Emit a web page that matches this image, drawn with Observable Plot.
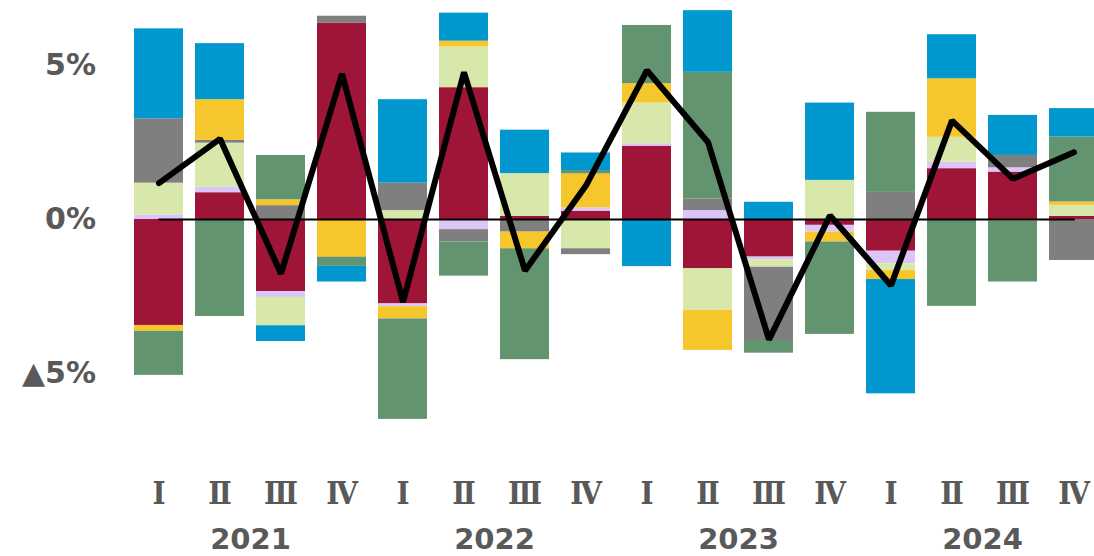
<!DOCTYPE html>
<html>
<head>
<meta charset="utf-8">
<script src="https://cdn.jsdelivr.net/npm/d3@7"></script>
<script src="https://cdn.jsdelivr.net/npm/@observablehq/plot@0.6"></script>
<style>
  html, body { margin: 0; padding: 0; background: #fff; overflow: hidden; }
  #chart svg { overflow: hidden; }
</style>
</head>
<body>
<div id="chart"></div>
<script>
// ---- data ----
const years = ["2021", "2022", "2023", "2024"];
const qLabels = ["Ⅰ", "Ⅱ", "Ⅲ", "Ⅳ"];
const quarters = years.flatMap(y => qLabels.map(q => `${y} ${q}`));

const seriesNames = ["系列A", "系列B", "系列C", "系列D", "系列E", "系列F", "系列G"];
const seriesColors = ["#9e1538", "#dcc5f7", "#d7e8aa", "#7f7f7f", "#f6c62d", "#62956f", "#0098cf"];

const seriesA = [-3.44, 0.87, -2.34, 6.37, -2.74, 4.28, 0.10, 0.27, 2.38, -1.60, -1.22, -0.19, -1.03, 1.65, 1.54, 0.10]; // crimson
const seriesB = [0.15, 0.18, -0.19, 0.00, -0.09, -0.33, 0.00, 0.11, 0.08, 0.29, -0.09, -0.22, -0.41, 0.21, 0.14, 0.00]; // lavender
const seriesC = [1.03, 1.43, -0.92, 0.00, 0.29, 1.32, 1.39, -0.95, 1.32, -1.35, -0.24, 1.27, -0.22, 0.81, 0.00, 0.36]; // light green
const seriesD = [2.09, 0.09, 0.45, 0.23, 0.89, -0.40, -0.41, -0.19, 0.00, 0.38, -2.38, 0.00, 0.88, 0.00, 0.40, -1.33]; // gray
const seriesE = [-0.19, 1.32, 0.19, -1.22, -0.40, 0.19, -0.54, 1.10, 0.63, -1.30, 0.00, -0.32, -0.29, 1.90, -0.05, 0.11]; // yellow
const seriesF = [-1.43, -3.15, 1.44, -0.30, -3.26, -1.11, -3.60, 0.11, 1.89, 4.11, -0.41, -3.00, 2.60, -2.82, -1.98, 2.11]; // green
const seriesG = [2.92, 1.82, -0.51, -0.51, 2.71, 0.91, 1.41, 0.57, -1.53, 2.00, 0.56, 2.51, -3.71, 1.43, 1.30, 0.92]; // blue

const total   = [1.18, 2.62, -1.76, 4.73, -2.68, 4.78, -1.66, 1.10, 4.84, 2.51, -3.90, 0.13, -2.14, 3.21, 1.32, 2.18];

const yTicks = [-5, 0, 5];

// ---- tables ----
const seriesValues = [seriesA, seriesB, seriesC, seriesD, seriesE, seriesF, seriesG];
const rows = [];
seriesNames.forEach((name, si) => {
  quarters.forEach((q, i) => rows.push({q, series: name, v: seriesValues[si][i]}));
});
const totalRows = quarters.map((q, i) => ({q, v: total[i]}));
const zeroRows = [{q: quarters[0], v: 0}, {q: quarters[quarters.length - 1], v: 0}];

const textColor = "#595959";

const chart = Plot.plot({
  width: 1094,
  height: 556,
  marginLeft: 127.5,
  marginRight: 0,
  marginTop: 3.4,
  marginBottom: 121.4,
  style: {background: "#fff", color: textColor},
  x: {type: "band", domain: quarters, range: [127.5, 1103.5], paddingInner: 0.2, paddingOuter: 0.1, label: null, axis: null},
  y: {domain: [-7, 7], label: null, axis: null},
  color: {domain: seriesNames, range: seriesColors},
  marks: [
    Plot.barY(rows, {x: "q", y: "v", fill: "series"}),
    Plot.lineY(zeroRows, {x: "q", y: "v", stroke: "black", strokeWidth: 2}),
    Plot.lineY(totalRows, {x: "q", y: "v", stroke: "black", strokeWidth: 6, strokeLinejoin: "miter", strokeLinecap: "round"}),
    Plot.axisY(yTicks, {
      tickSize: 0, tickPadding: 32,
      tickFormat: d => d < 0 ? `▲${Math.abs(d)}%` : `${d}%`,
      fontSize: 30, fontWeight: "bold", fontFamily: "DejaVu Sans", fill: textColor
    }),
    Plot.axisX({
      tickSize: 0, tickPadding: 47,
      tickFormat: d => d.split(" ")[1],
      fontSize: 31, fontWeight: "bold", fontFamily: "DejaVu Serif Condensed, DejaVu Serif", fill: textColor
    }),
    Plot.axisX(quarters.filter(d => d.endsWith("Ⅱ")), {
      tickSize: 0, tickPadding: 93, dx: 30.5,
      tickFormat: d => d.split(" ")[0],
      fontSize: 29, fontWeight: "bold", fontFamily: "DejaVu Sans", fill: textColor
    })
  ]
});
document.getElementById("chart").appendChild(chart);
</script>
</body>
</html>
